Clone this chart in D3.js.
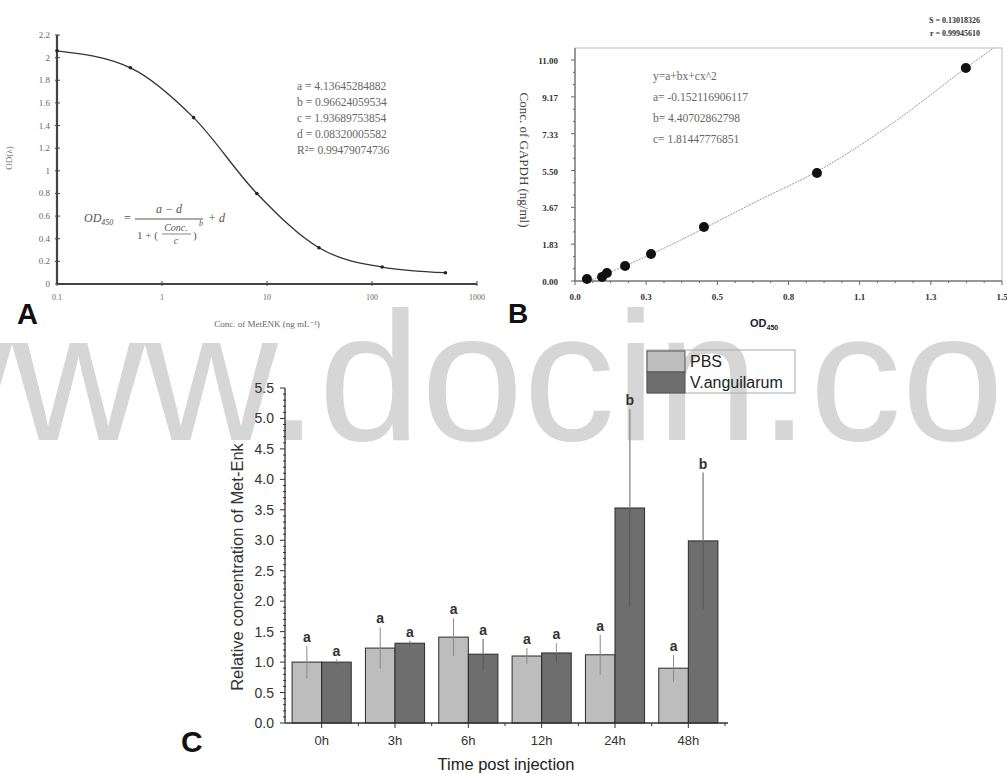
<!DOCTYPE html>
<html><head><meta charset="utf-8">
<script src="https://cdn.jsdelivr.net/npm/d3@7"></script>
<style>body{margin:0;background:#fff}svg{display:block}</style>
</head><body><svg id="c" width="1007" height="774"></svg>
<script>
// ---------- Panel A data ----------
const concA = [0.1, 0.5, 2, 8, 31.25, 125, 500];
const odA = [2.06, 1.91, 1.47, 0.80, 0.32, 0.15, 0.10];
const yTicksA = [0, 0.2, 0.4, 0.6, 0.8, 1, 1.2, 1.4, 1.6, 1.8, 2, 2.2];
const xTicksA = [0.1, 1, 10, 100, 1000];
const paramsA = ["a = 4.13645284882", "b = 0.96624059534", "c = 1.93689753854", "d = 0.08320005582", "R\u00b2= 0.99479074736"];

// ---------- Panel B data ----------
const odB = [0.042, 0.095, 0.112, 0.176, 0.267, 0.453, 0.85, 1.373];
const gapdhB = [0.1, 0.2, 0.4, 0.75, 1.34, 2.69, 5.38, 10.6];
const fitXB = [0.05, 0.1, 0.2, 0.3, 0.45, 0.65, 0.85, 1.1, 1.373, 1.47];
const fitYB = [0.0, 0.3, 0.9, 1.55, 2.6, 4.05, 5.45, 7.7, 10.6, 11.6];
const yTicksB = [0, 11/6, 22/6, 33/6, 44/6, 55/6, 11];
const yTickLabelsB = ["0.00", "1.83", "3.67", "5.50", "7.33", "9.17", "11.00"];
const xTicksB = [0, 0.25, 0.5, 0.75, 1.0, 1.25, 1.5];
const xTickLabelsB = ["0.0", "0.3", "0.5", "0.8", "1.1", "1.3", "1.5"];
const eqB = ["y=a+bx+cx^2", "a= -0.152116906117", "b= 4.40702862798", "c= 1.81447776851"];
const statsB = ["S = 0.13018326", "r = 0.99945610"];

// ---------- Panel C data ----------
const timesC = ["0h", "3h", "6h", "12h", "24h", "48h"];
const seriesC = ["PBS", "V.anguilarum"];
const pbsC = [1.0, 1.23, 1.41, 1.10, 1.12, 0.90];
const vangC = [1.0, 1.31, 1.13, 1.15, 3.53, 2.99];
const pbsErrC = [0.27, 0.34, 0.31, 0.13, 0.33, 0.22];
const vangErrC = [0.04, 0.04, 0.25, 0.16, 1.62, 1.12];
const pbsLetC = ["a", "a", "a", "a", "a", "a"];
const vangLetC = ["a", "a", "a", "a", "b", "b"];
const yTicksC = [0, 0.5, 1, 1.5, 2, 2.5, 3, 3.5, 4, 4.5, 5, 5.5];

const svg = d3.select("#c");
svg.append("rect").attr("width", 1007).attr("height", 774).attr("fill", "#fff");

// ================= Panel A =================
const gA = svg.append("g");
const xA = d3.scaleLog().domain([0.1, 1000]).range([57, 477]);
const yA = d3.scaleLinear().domain([0, 2.2]).range([284, 35]);
const serifA = "'Liberation Serif','DejaVu Serif',serif";

gA.append("line").attr("x1", xA(0.1)).attr("x2", xA(0.1)).attr("y1", yA(2.2)).attr("y2", yA(0)).attr("stroke", "#444").attr("stroke-width", 2.2);
gA.append("line").attr("x1", xA(0.1)).attr("x2", xA(1000)).attr("y1", yA(0)).attr("y2", yA(0)).attr("stroke", "#444").attr("stroke-width", 2.2);
yTicksA.forEach(t => {
  gA.append("line").attr("x1", xA(0.1) - 2).attr("x2", xA(0.1) + 3).attr("y1", yA(t)).attr("y2", yA(t)).attr("stroke", "#444");
  gA.append("text").attr("x", xA(0.1) - 7).attr("y", yA(t) + 3).attr("text-anchor", "end")
    .attr("font-family", serifA).attr("font-size", 9).attr("fill", "#666").text(d3.format("~g")(t));
});
xTicksA.forEach(t => {
  gA.append("line").attr("x1", xA(t)).attr("x2", xA(t)).attr("y1", yA(0) - 3).attr("y2", yA(0) + 2).attr("stroke", "#444");
  gA.append("text").attr("x", xA(t)).attr("y", yA(0) + 16).attr("text-anchor", "middle")
    .attr("font-family", serifA).attr("font-size", 8).attr("fill", "#666").text(d3.format("~g")(t));
});
const ptsA = concA.map((c, i) => [c, odA[i]]);
gA.append("path").datum(ptsA).attr("fill", "none").attr("stroke", "#333").attr("stroke-width", 1.3)
  .attr("d", d3.line().x(d => xA(d[0])).y(d => yA(d[1])).curve(d3.curveMonotoneX));
gA.selectAll("circle.pa").data(ptsA).join("circle").attr("cx", d => xA(d[0])).attr("cy", d => yA(d[1])).attr("r", 1.8).attr("fill", "#222");
paramsA.forEach((s, i) => {
  gA.append("text").attr("x", 297).attr("y", 90 + i * 16).attr("font-family", serifA).attr("font-size", 11.5).attr("fill", "#666").text(s);
});
// formula
const fA = gA.append("g").attr("font-family", serifA).attr("fill", "#555").attr("font-style", "italic");
fA.append("text").attr("x", 84).attr("y", 222).attr("font-size", 12).text("OD").append("tspan").attr("font-size", 8).attr("dy", 3).text("450");
fA.append("text").attr("x", 124).attr("y", 222).attr("font-size", 12).attr("font-style", "normal").text("=");
fA.append("line").attr("x1", 135).attr("x2", 203).attr("y1", 219).attr("y2", 219).attr("stroke", "#555");
fA.append("text").attr("x", 169).attr("y", 213).attr("font-size", 12).attr("text-anchor", "middle").text("a \u2212 d");
fA.append("text").attr("x", 137).attr("y", 239).attr("font-size", 11).attr("font-style", "normal").text("1 + (");
fA.append("text").attr("x", 176).attr("y", 231).attr("font-size", 10).attr("text-anchor", "middle").text("Conc.");
fA.append("line").attr("x1", 162).attr("x2", 191).attr("y1", 234).attr("y2", 234).attr("stroke", "#555").attr("stroke-width", 0.7);
fA.append("text").attr("x", 176).attr("y", 244).attr("font-size", 10).attr("text-anchor", "middle").text("c");
fA.append("text").attr("x", 193).attr("y", 239).attr("font-size", 11).attr("font-style", "normal").text(")");
fA.append("text").attr("x", 199).attr("y", 226).attr("font-size", 8).text("b");
fA.append("text").attr("x", 208).attr("y", 222).attr("font-size", 12).text("+ d");
gA.append("text").attr("transform", "translate(12,158) rotate(-90)").attr("text-anchor", "middle")
  .attr("font-family", serifA).attr("font-size", 9).attr("fill", "#777").text("OD(\u03bb)");
gA.append("text").attr("x", 267).attr("y", 327).attr("text-anchor", "middle").attr("font-family", serifA).attr("font-size", 9).attr("fill", "#666").text("Conc. of MetENK (ng mL\u207b\u00b9)");
gA.append("text").attr("x", 17).attr("y", 324).attr("font-family", "'Liberation Sans',Arial,sans-serif").attr("font-weight", "bold").attr("font-size", 29).attr("fill", "#111").text("A");

// ================= Panel B =================
const gB = svg.append("g");
const xB = d3.scaleLinear().domain([0, 1.5]).range([575, 1002]);
const yB = d3.scaleLinear().domain([0, 11.6]).range([281, 48]);
const serifB = "'Liberation Serif','DejaVu Serif',serif";
gB.append("rect").attr("x", xB(0)).attr("y", yB(11.6)).attr("width", xB(1.5) - xB(0)).attr("height", yB(0) - yB(11.6))
  .attr("fill", "none").attr("stroke", "#bbb").attr("stroke-width", 1);
gB.append("line").attr("x1", xB(0)).attr("x2", xB(0)).attr("y1", yB(11.6)).attr("y2", yB(0)).attr("stroke", "#555");
gB.append("line").attr("x1", xB(0)).attr("x2", xB(1.5)).attr("y1", yB(0)).attr("y2", yB(0)).attr("stroke", "#555");
for (let i = 0; i <= 18; i++) {
  const v = i * 11 / 18; const major = i % 3 === 0;
  gB.append("line").attr("x1", xB(0) - (major ? 4 : 2)).attr("x2", xB(0)).attr("y1", yB(v)).attr("y2", yB(v)).attr("stroke", "#666");
}
for (let i = 0; i <= 24; i++) {
  const v = i * 1.5 / 24; const major = i % 4 === 0;
  gB.append("line").attr("x1", xB(v)).attr("x2", xB(v)).attr("y1", yB(0)).attr("y2", yB(0) + (major ? 4 : 2)).attr("stroke", "#666");
}
yTicksB.forEach((t, i) => {
  gB.append("text").attr("x", 558).attr("y", yB(t) + 4).attr("text-anchor", "end").attr("font-family", serifB)
    .attr("font-weight", "bold").attr("font-size", 9).attr("fill", "#333").text(yTickLabelsB[i]);
});
xTicksB.forEach((t, i) => {
  gB.append("text").attr("x", xB(t)).attr("y", 300).attr("text-anchor", "middle").attr("font-family", serifB)
    .attr("font-weight", "bold").attr("font-size", 9).attr("fill", "#333").text(xTickLabelsB[i]);
});
const fitB = fitXB.map((x, i) => [x, fitYB[i]]);
gB.append("path").datum(fitB).attr("fill", "none").attr("stroke", "#999").attr("stroke-width", 1).attr("stroke-dasharray", "2,1")
  .attr("d", d3.line().x(d => xB(d[0])).y(d => yB(d[1])).curve(d3.curveMonotoneX));
gB.selectAll("circle.pb").data(odB.map((x, i) => [x, gapdhB[i]])).join("circle")
  .attr("cx", d => xB(d[0])).attr("cy", d => yB(d[1])).attr("r", 5).attr("fill", "#111");
eqB.forEach((s, i) => {
  gB.append("text").attr("x", 653).attr("y", 80 + i * 21).attr("font-family", serifB).attr("font-size", 11.5).attr("fill", "#666").text(s);
});
statsB.forEach((s, i) => {
  gB.append("text").attr("x", 980).attr("y", 23 + i * 13).attr("text-anchor", "end").attr("font-family", serifB)
    .attr("font-weight", "bold").attr("font-size", 8).attr("fill", "#333").text(s);
});
gB.append("text").attr("transform", "translate(520,160) rotate(90)").attr("text-anchor", "middle")
  .attr("font-family", serifB).attr("font-size", 13).attr("fill", "#444").text("Conc. of GAPDH (ng/ml)");
const odLab = gB.append("text").attr("x", 750).attr("y", 327).attr("font-family", "'Liberation Sans',Arial,sans-serif").attr("font-weight", "bold").attr("font-size", 11).attr("fill", "#222").text("OD");
odLab.append("tspan").attr("font-size", 7).attr("dy", 3).text("450");
gB.append("text").attr("x", 508).attr("y", 323).attr("font-family", "'Liberation Sans',Arial,sans-serif").attr("font-weight", "bold").attr("font-size", 28).attr("fill", "#111").text("B");

// ================= Watermark =================
svg.append("text").attr("x", -121).attr("y", 440).attr("font-family", "'Liberation Sans',Arial,sans-serif")
  .attr("font-size", 184).attr("fill", "#d6d6d6").text("www.docin.com");

// ================= Panel C =================
const gC = svg.append("g");
const sans = "'Liberation Sans',Arial,sans-serif";
const xC = d3.scaleBand().domain(timesC).range([285, 725]).padding(0);
const x1C = d3.scaleBand().domain(seriesC).range([0, xC.bandwidth()]).paddingOuter(0.24).paddingInner(0);
const yC = d3.scaleLinear().domain([0, 5.5]).range([723, 388]);
const colC = {"PBS": "#bdbdbd", "V.anguilarum": "#6e6e6e"};
const dataC = timesC.map((t, i) => ({t, vals: [
  {s: "PBS", v: pbsC[i], e: pbsErrC[i], l: pbsLetC[i]},
  {s: "V.anguilarum", v: vangC[i], e: vangErrC[i], l: vangLetC[i]}]}));

const grp = gC.selectAll("g.grp").data(dataC).join("g").attr("transform", d => `translate(${xC(d.t)},0)`);
grp.selectAll("rect").data(d => d.vals).join("rect")
  .attr("x", d => x1C(d.s)).attr("width", x1C.bandwidth()).attr("y", d => yC(d.v)).attr("height", d => yC(0) - yC(d.v))
  .attr("fill", d => colC[d.s]).attr("stroke", "#2a2a2a").attr("stroke-width", 1);
grp.selectAll("line.err").data(d => d.vals).join("line").attr("class", "err")
  .attr("x1", d => x1C(d.s) + x1C.bandwidth() / 2).attr("x2", d => x1C(d.s) + x1C.bandwidth() / 2)
  .attr("y1", d => yC(d.v + d.e)).attr("y2", d => yC(d.v - d.e))
  .attr("stroke", d => d.s === "PBS" ? "#8a8a8a" : "#555").attr("stroke-width", 1);
grp.selectAll("line.errTop").data(d => d.vals.filter(v => v.s !== "PBS")).join("line").attr("class", "errTop")
  .attr("x1", d => x1C(d.s) + x1C.bandwidth() / 2).attr("x2", d => x1C(d.s) + x1C.bandwidth() / 2)
  .attr("y1", d => yC(d.v + d.e)).attr("y2", d => yC(d.v)).attr("stroke", "#aaa").attr("stroke-width", 1);
grp.selectAll("text.let").data(d => d.vals).join("text").attr("class", "let")
  .attr("x", d => x1C(d.s) + x1C.bandwidth() / 2).attr("y", d => yC(d.v + d.e) - 4).attr("text-anchor", "middle")
  .attr("font-family", sans).attr("font-weight", "bold").attr("font-size", 14).attr("fill", "#333").text(d => d.l);

// axes C
gC.append("line").attr("x1", 285).attr("x2", 285).attr("y1", yC(5.5)).attr("y2", yC(0)).attr("stroke", "#333").attr("stroke-width", 1.3);
gC.append("line").attr("x1", 285).attr("x2", 728).attr("y1", yC(0)).attr("y2", yC(0)).attr("stroke", "#333").attr("stroke-width", 1.3);
for (let i = 0; i <= 55; i++) {
  const v = i / 10; const major = i % 5 === 0;
  gC.append("line").attr("x1", 285 - (major ? 5 : 2)).attr("x2", 285 + (major ? 0 : 1)).attr("y1", yC(v)).attr("y2", yC(v)).attr("stroke", "#333");
}
yTicksC.forEach(t => {
  gC.append("text").attr("x", 274).attr("y", yC(t) + 5).attr("text-anchor", "end").attr("font-family", sans)
    .attr("font-size", 14).attr("fill", "#333").text(d3.format(".1f")(t));
});
timesC.forEach((t, i) => {
  const cx = xC(t) + xC.bandwidth() / 2;
  gC.append("line").attr("x1", cx).attr("x2", cx).attr("y1", yC(0)).attr("y2", yC(0) + 5).attr("stroke", "#333");
  gC.append("line").attr("x1", xC(t) + xC.bandwidth()).attr("x2", xC(t) + xC.bandwidth()).attr("y1", yC(0)).attr("y2", yC(0) + 3).attr("stroke", "#333");
  gC.append("text").attr("x", cx).attr("y", 745).attr("text-anchor", "middle").attr("font-family", sans).attr("font-size", 13).attr("fill", "#333").text(t);
});
gC.append("text").attr("transform", "translate(243,567) rotate(-90)").attr("text-anchor", "middle")
  .attr("font-family", sans).attr("font-size", 16.5).attr("fill", "#333").text("Relative concentration of Met-Enk");
gC.append("text").attr("x", 506).attr("y", 770).attr("text-anchor", "middle").attr("font-family", sans).attr("font-size", 16.5).attr("fill", "#222").text("Time post injection");
gC.append("text").attr("x", 181).attr("y", 752).attr("font-family", sans).attr("font-weight", "bold").attr("font-size", 30).attr("fill", "#111").text("C");

// legend
const lg = gC.append("g").attr("transform", "translate(647,350)");
lg.append("rect").attr("width", 148).attr("height", 43).attr("fill", "none").attr("stroke", "#aaa");
seriesC.forEach((s, i) => {
  lg.append("rect").attr("x", 0).attr("y", 1 + i * 21).attr("width", 38).attr("height", 21).attr("fill", colC[s]).attr("stroke", "#555");
  lg.append("text").attr("x", 43).attr("y", 17 + i * 21).attr("font-family", sans).attr("font-size", 16).attr("fill", "#222").text(s);
});
</script></body></html>
